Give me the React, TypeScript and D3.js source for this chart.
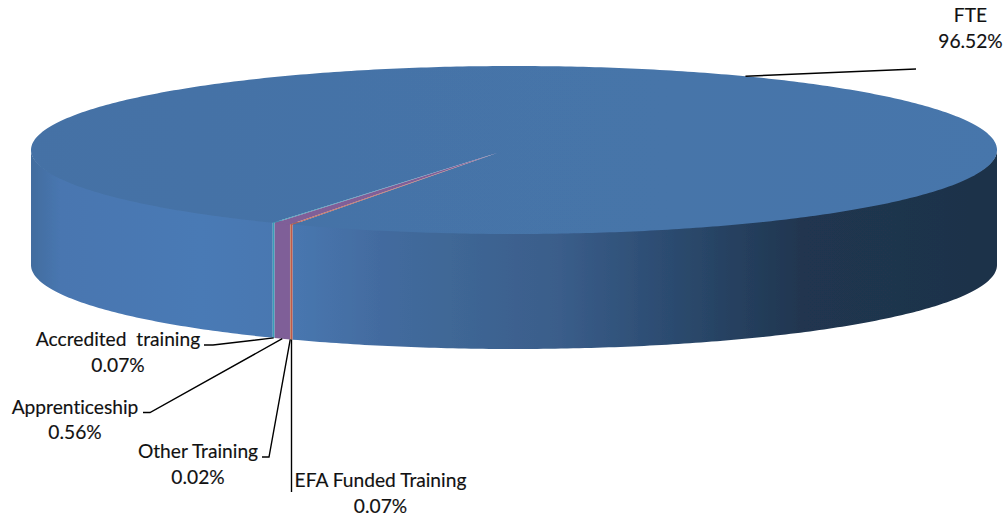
import React from "react";
import * as d3 from "d3";

const categories = ["EFA Funded Training", "Other Training", "Apprenticeship", "Accredited  training", "FTE"];
const shares = [0.07, 0.02, 0.56, 0.07, 96.52];
const shareLabels = ["0.07%", "0.02%", "0.56%", "0.07%", "96.52%"];
const sliceColors = ["#c25a48", "#9c8a58", "#7f5e98", "#389fb8", "#4674a9"];

// layout
const W = 1005, H = 519;
const CX = 514, CY = 150, RX = 483, RY = 84, DEPTH = 115;
const APEX = { x: 497, y: 153 };
const START_DEG = 207.3;
const labelPos = [
  { x: 380.5, y1: 479, y2: 505, elbow: [[291.5, 492]] },
  { x: 198, y1: 450, y2: 476, elbow: [[262, 457], [269, 457]] },
  { x: 75, y1: 406, y2: 431, elbow: [[143, 412.5], [150, 412.5]] },
  { x: 118, y1: 338, y2: 364, elbow: [[204, 345], [213, 345]] },
  { x: 970.5, y1: 14, y2: 40, elbow: [[916, 69]] },
];
const wallStops: [number, string][] = [
  [32, "#426d9f"], [60, "#4876b0"], [200, "#4a7ab5"], [292, "#4877b0"],
  [380, "#436b9f"], [450, "#3f6796"], [560, "#3a5d8a"], [640, "#2f5077"],
  [700, "#294668"], [800, "#203650"], [997, "#1e3249"],
];

const pieGen = d3
  .pie<number>()
  .sort(null)
  .value((d) => d)
  .startAngle((START_DEG * Math.PI) / 180)
  .endAngle(((START_DEG + 360) * Math.PI) / 180);
const arcs = pieGen(shares);

const rim = (a: number, drop = 0): [number, number] => [
  CX + RX * Math.sin(a),
  CY - RY * Math.cos(a) + drop,
];
// slightly above the rim, so the wall runs under the face and leaves no seam
const innerRim = (a: number): [number, number] => [
  CX + RX * Math.sin(a),
  CY - RY * 0.96 * Math.cos(a),
];
const sample = (a0: number, a1: number): number[] => {
  const n = Math.max(2, Math.ceil(Math.abs(a1 - a0) * 80));
  return d3.range(n + 1).map((i) => a0 + ((a1 - a0) * i) / n);
};
const line = d3.line<[number, number]>();

const wedgePath = (a0: number, a1: number) =>
  line([[APEX.x, APEX.y] as [number, number], ...sample(a0, a1).map((a) => rim(a))]) + "Z";

// the parts of a slice that face the viewer (lower half of the ellipse)
const wallPaths = (a0: number, a1: number): string[] => {
  const out: string[] = [];
  for (const k of [0, 1]) {
    const lo = Math.PI / 2 + k * 2 * Math.PI;
    const hi = (3 * Math.PI) / 2 + k * 2 * Math.PI;
    const s = Math.max(a0, lo), e = Math.min(a1, hi);
    if (e > s) {
      const pts = sample(s, e);
      const top = pts.map((a) => innerRim(a));
      const bottom = pts.slice().reverse().map((a) => rim(a, DEPTH));
      out.push(line([...top, ...bottom]) + "Z");
    }
  }
  return out;
};

const xPct = d3.scaleLinear().domain([0, W]).range([0, 100]);

export default function App() {
  const font = {
    fontFamily: "Lato, 'Open Sans', sans-serif",
    fontSize: 19.2,
    fill: "#111",
    fontVariantLigatures: "none",
    stroke: "#111",
    strokeWidth: 0.15,
  } as React.CSSProperties;
  return (
    <svg
      width={W}
      height={H}
      viewBox={`0 0 ${W} ${H}`}
      style={{ position: "absolute", left: 0, top: 0, display: "block", background: "#fff" }}
    >
      <defs>
        <linearGradient id="wall" gradientUnits="userSpaceOnUse" x1={0} x2={W} y1={0} y2={0}>
          {wallStops.map(([x, c]) => (
            <stop key={x} offset={`${xPct(x)}%`} stopColor={c} />
          ))}
        </linearGradient>
        <linearGradient id="face" gradientUnits="userSpaceOnUse" x1={0} x2={W} y1={0} y2={0}>
          <stop offset="0%" stopColor="#4471a5" />
          <stop offset="100%" stopColor="#4776ab" />
        </linearGradient>
        <filter id="soft" x="-2%" y="-2%" width="104%" height="104%">
          <feGaussianBlur stdDeviation="0.3" />
        </filter>
      </defs>

      <g filter="url(#soft)">
        {arcs
          .slice()
          .reverse()
          .map((a) =>
            wallPaths(a.startAngle, a.endAngle).map((d, j) => (
              <path
                key={`w${a.index}-${j}`}
                d={d}
                fill={a.index === 4 ? "url(#wall)" : sliceColors[a.index]}
              />
            ))
          )}
        {arcs
          .slice()
          .reverse()
          .map((a) => (
            <path
              key={`t${a.index}`}
              d={wedgePath(a.startAngle, a.endAngle)}
              fill={a.index === 4 ? "url(#face)" : sliceColors[a.index]}
            />
          ))}
      </g>

      {arcs.map((a, i) => {
        const mid = (a.startAngle + a.endAngle) / 2;
        const front = Math.cos(mid) < 0;
        const end = rim(mid, front ? DEPTH : 0);
        const pts = [...labelPos[i].elbow, end] as [number, number][];
        return <path key={`l${i}`} d={line(pts) as string} fill="none" stroke="#000" strokeWidth={1.4} />;
      })}

      {categories.map((c, i) => (
        <g key={c} textAnchor="middle" dominantBaseline="central" style={font}>
          <text x={labelPos[i].x} y={labelPos[i].y1} style={{ whiteSpace: "pre" }}>{c}</text>
          <text x={labelPos[i].x} y={labelPos[i].y2}>{shareLabels[i]}</text>
        </g>
      ))}
    </svg>
  );
}
